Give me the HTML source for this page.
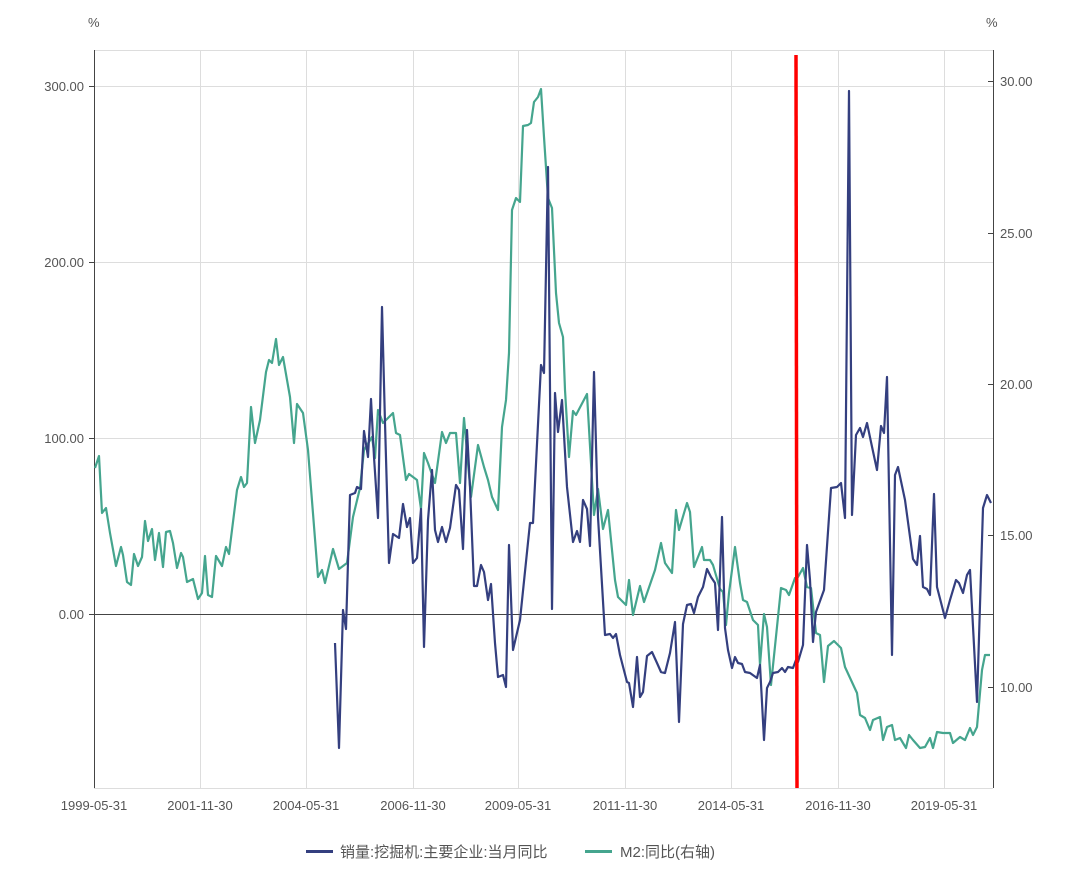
<!DOCTYPE html>
<html><head><meta charset="utf-8"><style>
html,body{margin:0;padding:0;background:#fff}
svg text{font-family:"Liberation Sans","Noto Sans CJK SC",sans-serif;fill:#555;font-size:13px}
</style></head><body>
<svg width="1080" height="881" viewBox="0 0 1080 881" xmlns="http://www.w3.org/2000/svg">
<g stroke="#ddd" stroke-width="1">
<line x1="94" y1="50.5" x2="993" y2="50.5"/>
<line x1="94" y1="86.5" x2="993" y2="86.5"/>
<line x1="94" y1="262.5" x2="993" y2="262.5"/>
<line x1="94" y1="438.5" x2="993" y2="438.5"/>
<line x1="94" y1="788.5" x2="993" y2="788.5"/>
<line x1="200.5" y1="50" x2="200.5" y2="788"/>
<line x1="306.5" y1="50" x2="306.5" y2="788"/>
<line x1="413.5" y1="50" x2="413.5" y2="788"/>
<line x1="518.5" y1="50" x2="518.5" y2="788"/>
<line x1="625.5" y1="50" x2="625.5" y2="788"/>
<line x1="731.5" y1="50" x2="731.5" y2="788"/>
<line x1="838.5" y1="50" x2="838.5" y2="788"/>
<line x1="944.5" y1="50" x2="944.5" y2="788"/>
</g>
<g stroke="#444" stroke-width="1">
<line x1="94.5" y1="50" x2="94.5" y2="788"/>
<line x1="993.5" y1="50" x2="993.5" y2="788"/>
<line x1="94" y1="614.5" x2="993" y2="614.5"/>
<line x1="89" y1="86.5" x2="94" y2="86.5"/>
<line x1="89" y1="262.5" x2="94" y2="262.5"/>
<line x1="89" y1="438.5" x2="94" y2="438.5"/>
<line x1="89" y1="614.5" x2="94" y2="614.5"/>
<line x1="988" y1="81.5" x2="993" y2="81.5"/>
<line x1="988" y1="233.5" x2="993" y2="233.5"/>
<line x1="988" y1="384.5" x2="993" y2="384.5"/>
<line x1="988" y1="535.5" x2="993" y2="535.5"/>
<line x1="988" y1="687.5" x2="993" y2="687.5"/>
</g>
<text x="88" y="27">%</text>
<text x="986" y="27">%</text>
<g text-anchor="end">
<text x="84" y="91">300.00</text>
<text x="84" y="267">200.00</text>
<text x="84" y="443">100.00</text>
<text x="84" y="619">0.00</text>
</g>
<g>
<text x="1000" y="86">30.00</text>
<text x="1000" y="238">25.00</text>
<text x="1000" y="389">20.00</text>
<text x="1000" y="540">15.00</text>
<text x="1000" y="692">10.00</text>
</g>
<g text-anchor="middle">
<text x="94" y="810">1999-05-31</text>
<text x="200" y="810">2001-11-30</text>
<text x="306" y="810">2004-05-31</text>
<text x="413" y="810">2006-11-30</text>
<text x="518" y="810">2009-05-31</text>
<text x="625" y="810">2011-11-30</text>
<text x="731" y="810">2014-05-31</text>
<text x="838" y="810">2016-11-30</text>
<text x="944" y="810">2019-05-31</text>
</g>
<polyline fill="none" stroke="#45a58e" stroke-width="2.2" stroke-linejoin="round" points="95,468 99,456 102,513 106,508 110,533 116,566 121,547 123,555 127,582 131,585 134,554 138,566 142,557 145,521 148,541 152,529 155,560 159,533 163,567 166,532 170,531 173,543 177,568 181,553 183,557 187,582 193,579 198,599 202,593 205,556 208,595 212,597 216,556 222,566 226,547 229,554 237,490 241,477 244,487 247,483 251,407 255,443 260,420 266,372 269,360 272,363 276,339 279,365 283,357 290,397 294,443 297,404 303,413 308,450 318,577 322,570 325,583 333,549 339,569 347,563 353,517 360,488 364,450 372,437 375,458 378,410 383,423 393,413 396,433 400,435 406,480 409,474 417,480 421,509 424,453 428,463 435,483 442,432 446,443 450,433 456,433 460,483 464,418 471,497 478,445 484,467 488,480 492,497 498,510 502,427 506,400 509,353 512,210 516,198 520,202 523,126 528,125 531,123 534,102 538,97 541,89 544,137 548,198 552,208 556,293 559,323 563,337 565,390 569,457 573,411 576,415 587,394 594,515 598,489 603,529 608,510 615,580 618,597 626,605 629,580 633,615 640,586 644,602 655,570 661,543 665,563 672,573 676,510 679,530 687,503 690,512 694,567 702,547 704,560 710,560 713,565 720,589 723,592 726,625 729,593 735,547 740,583 743,600 747,602 753,620 758,625 760,665 764,614 767,627 771,685 781,588 786,590 789,595 795,578 798,577 803,568 807,587 811,588 816,633 820,635 824,682 828,646 834,641 841,648 845,667 857,693 860,715 865,718 870,730 873,720 880,717 883,740 887,727 892,725 895,740 900,738 906,748 909,735 913,740 920,748 925,747 930,738 933,748 937,732 943,733 950,733 953,743 960,737 965,740 970,728 973,735 977,727 982,670 985,655 990,655"/>
<polyline fill="none" stroke="#343f7f" stroke-width="2.2" stroke-linejoin="round" points="335,643 339,748 343,610 346,629 350,495 355,493 357,487 361,489 364,431 368,457 371,399 374,457 378,518 382,307 385,423 389,563 393,534 399,538 403,504 407,527 410,518 413,563 417,558 421,509 424,647 428,520 432,470 435,530 438,542 442,527 446,542 450,528 456,485 459,490 463,549 467,430 470,487 474,586 477,586 481,565 484,572 488,600 491,584 495,643 498,677 503,675 506,687 509,545 513,650 520,620 530,523 533,523 541,365 544,373 548,167 552,609 555,393 558,432 562,400 567,487 573,542 577,531 580,542 583,500 587,509 590,546 594,372 598,517 605,635 610,634 613,638 616,634 620,655 627,682 629,683 633,707 637,657 640,697 643,692 647,656 652,652 657,663 661,672 665,673 670,653 675,622 679,722 683,624 687,605 691,604 694,613 698,597 703,587 707,569 711,577 715,583 718,630 722,517 725,628 728,650 732,668 735,657 738,663 742,664 745,672 750,673 757,678 760,665 764,740 767,688 770,682 773,673 778,672 782,668 785,672 788,667 793,668 796,660 798,662 803,645 807,545 810,580 813,642 816,612 824,590 831,488 837,487 841,483 845,518 849,91 852,515 856,435 860,428 863,437 867,423 871,442 877,470 881,426 884,433 887,377 892,655 895,475 898,467 905,500 913,559 917,565 920,536 923,587 927,589 930,595 934,494 937,587 945,618 950,600 956,580 959,583 963,593 967,575 970,570 977,702 983,508 987,495 991,503"/>
<line x1="796" y1="55" x2="797" y2="788" stroke="#f00" stroke-width="3.5"/>
<line x1="306" y1="851.5" x2="333" y2="851.5" stroke="#343f7f" stroke-width="3"/>
<text x="340" y="857" style="font-size:15px">销量:挖掘机:主要企业:当月同比</text>
<line x1="585" y1="851.5" x2="612" y2="851.5" stroke="#45a58e" stroke-width="3"/>
<text x="620" y="857" style="font-size:15px">M2:同比(右轴)</text>
</svg>
</body></html>
